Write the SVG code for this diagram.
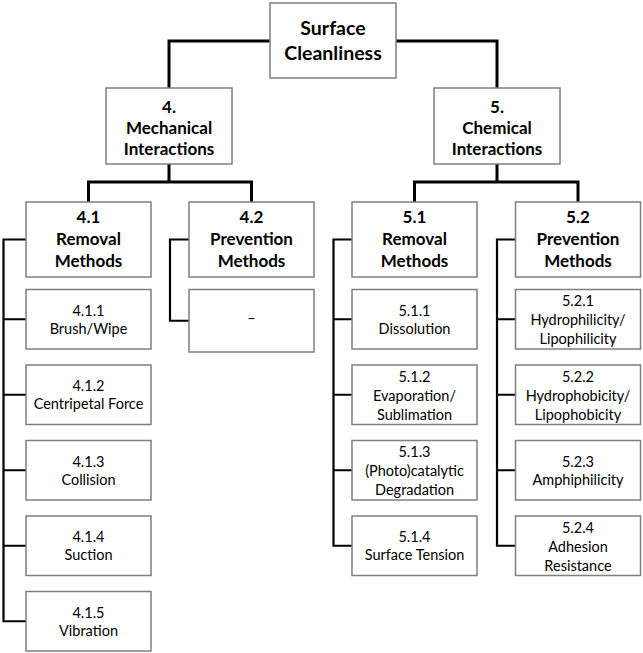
<svg xmlns="http://www.w3.org/2000/svg" width="643" height="653" viewBox="0 0 643 653">
<style>
.box{fill:#fff;stroke:#7f7f7f;stroke-width:1.5}
.c3{fill:none;stroke:#000;stroke-width:3}
.c2{fill:none;stroke:#000;stroke-width:2.2}
text{font-family:Lato,"Liberation Sans",sans-serif;text-anchor:middle;fill:#000}
.b1{font-size:19.5px;font-weight:bold}
.b2{font-size:17px;font-weight:bold}
.r{font-size:14.5px}
</style>
<rect width="643" height="653" fill="#fff"/>
<g id="connectors">
<path class="c3" d="M270 41H169V88M396 41H497V88"/>
<path class="c3" d="M169 164V182M88.5 202V182H251.5V202M497 164V182M414.5 202V182H578V202"/>
<path class="c2" d="M26 239.5H3.5V621.25H26M3.5 319.25H26M3.5 394.75H26M3.5 470.25H26M3.5 545.75H26"/>
<path class="c2" d="M189 239.5H170V320.75H189"/>
<path class="c2" d="M352 239.5H333.5V545.75H352M333.5 319.25H352M333.5 394.75H352M333.5 470.25H352"/>
<path class="c2" d="M515.5 239.5H497V545.75H515.5M497 319.25H515.5M497 394.75H515.5M497 470.25H515.5"/>
</g>
<g id="root"><rect class="box" x="270" y="3" width="126" height="75"/><text class="b1" x="333" y="34.5">Surface</text><text class="b1" x="333" y="60">Cleanliness</text></g>
<g id="n4"><rect class="box" x="106" y="88" width="126" height="76"/><text class="b2" x="169" y="113">4.</text><text class="b2" x="169" y="134">Mechanical</text><text class="b2" x="169" y="155">Interactions</text></g>
<g id="n5"><rect class="box" x="434" y="88" width="126" height="76"/><text class="b2" x="497" y="113">5.</text><text class="b2" x="497" y="134">Chemical</text><text class="b2" x="497" y="155">Interactions</text></g>
<g id="n41"><rect class="box" x="26" y="202" width="125" height="75"/><text class="b2" x="88.5" y="223">4.1</text><text class="b2" x="88.5" y="245">Removal</text><text class="b2" x="88.5" y="266.5">Methods</text></g>
<g id="n42"><rect class="box" x="189" y="202" width="125" height="75"/><text class="b2" x="251.5" y="223">4.2</text><text class="b2" x="251.5" y="245">Prevention</text><text class="b2" x="251.5" y="266.5">Methods</text></g>
<g id="n51"><rect class="box" x="352" y="202" width="125" height="75"/><text class="b2" x="414.5" y="223">5.1</text><text class="b2" x="414.5" y="245">Removal</text><text class="b2" x="414.5" y="266.5">Methods</text></g>
<g id="n52"><rect class="box" x="515.5" y="202" width="125" height="75"/><text class="b2" x="578" y="223">5.2</text><text class="b2" x="578" y="245">Prevention</text><text class="b2" x="578" y="266.5">Methods</text></g>
<g id="n411"><rect class="box" x="26" y="289.5" width="125" height="59.5"/><text class="r" x="88.5" y="315.75">4.1.1</text><text class="r" x="88.5" y="333.5">Brush/Wipe</text></g>
<g id="n412"><rect class="box" x="26" y="365" width="125" height="59.5"/><text class="r" x="88.5" y="391.25">4.1.2</text><text class="r" x="88.5" y="409">Centripetal Force</text></g>
<g id="n413"><rect class="box" x="26" y="440.5" width="125" height="59.5"/><text class="r" x="88.5" y="466.75">4.1.3</text><text class="r" x="88.5" y="484.5">Collision</text></g>
<g id="n414"><rect class="box" x="26" y="516" width="125" height="59.5"/><text class="r" x="88.5" y="542.25">4.1.4</text><text class="r" x="88.5" y="560">Suction</text></g>
<g id="n415"><rect class="box" x="26" y="591.5" width="125" height="59.5"/><text class="r" x="88.5" y="617.75">4.1.5</text><text class="r" x="88.5" y="635.5">Vibration</text></g>
<g id="n421"><rect class="box" x="189" y="289.5" width="125" height="62.5"/><text class="r" x="251.5" y="323">–</text></g>
<g id="n511"><rect class="box" x="352" y="289.5" width="125" height="59.5"/><text class="r" x="414.5" y="315.75">5.1.1</text><text class="r" x="414.5" y="333.5">Dissolution</text></g>
<g id="n512"><rect class="box" x="352" y="365" width="125" height="59.5"/><text class="r" x="414.5" y="381.75">5.1.2</text><text class="r" x="414.5" y="400.75">Evaporation/</text><text class="r" x="414.5" y="419.75">Sublimation</text></g>
<g id="n513"><rect class="box" x="352" y="440.5" width="125" height="59.5"/><text class="r" x="414.5" y="457.25">5.1.3</text><text class="r" x="414.5" y="476.25">(Photo)catalytic</text><text class="r" x="414.5" y="495.25">Degradation</text></g>
<g id="n514"><rect class="box" x="352" y="516" width="125" height="59.5"/><text class="r" x="414.5" y="542.25">5.1.4</text><text class="r" x="414.5" y="560">Surface Tension</text></g>
<g id="n521"><rect class="box" x="515.5" y="289.5" width="125" height="59.5"/><text class="r" x="578" y="306.25">5.2.1</text><text class="r" x="578" y="325.25">Hydrophilicity/</text><text class="r" x="578" y="344.25">Lipophilicity</text></g>
<g id="n522"><rect class="box" x="515.5" y="365" width="125" height="59.5"/><text class="r" x="578" y="381.75">5.2.2</text><text class="r" x="578" y="400.75">Hydrophobicity/</text><text class="r" x="578" y="419.75">Lipophobicity</text></g>
<g id="n523"><rect class="box" x="515.5" y="440.5" width="125" height="59.5"/><text class="r" x="578" y="466.75">5.2.3</text><text class="r" x="578" y="484.5">Amphiphilicity</text></g>
<g id="n524"><rect class="box" x="515.5" y="516" width="125" height="59.5"/><text class="r" x="578" y="532.75">5.2.4</text><text class="r" x="578" y="551.75">Adhesion</text><text class="r" x="578" y="570.75">Resistance</text></g>
</svg>
